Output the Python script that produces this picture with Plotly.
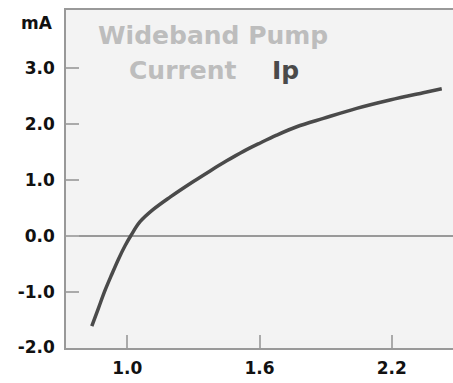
import plotly.graph_objects as go

# Lambda (x) and pump current Ip in mA (y)
lam = [0.839, 0.869, 0.899, 0.930, 0.960, 0.990, 1.016, 1.058, 1.118, 1.194, 1.300, 1.376,
       1.451, 1.527, 1.603, 1.678, 1.769, 1.890, 2.041, 2.192, 2.343, 2.427]
ip_ma = [-1.62, -1.30, -0.98, -0.69, -0.42, -0.18, 0.0, 0.25, 0.47, 0.69, 0.97, 1.16,
         1.34, 1.51, 1.66, 1.80, 1.95, 2.10, 2.28, 2.43, 2.56, 2.63]

x_ticks = [1.0, 1.6, 2.2]
x_tick_text = ["1.0", "1.6", "2.2"]
y_ticks = [3.0, 2.0, 1.0, 0.0, -1.0, -2.0]
y_tick_text = ["3.0", "2.0", "1.0", "0.0", "-1.0", "-2.0"]

fig = go.Figure()
fig.add_trace(go.Scatter(x=lam, y=ip_ma, mode="lines",
                         line=dict(color="#4a4a4a", width=3.5, shape="spline", smoothing=1.0),
                         showlegend=False, hoverinfo="skip"))

font = "DejaVu Sans, sans-serif"
tickfont = dict(family=font, size=17, color="#111", weight="bold")
fig.update_layout(
    width=453, height=383,
    margin=dict(l=66, r=0, t=10, b=35),
    paper_bgcolor="white",
    plot_bgcolor="#f3f3f3",
    font=dict(family=font, size=16, color="#111"),
    xaxis=dict(range=[0.722, 2.478], tickvals=x_ticks, ticktext=x_tick_text, tickfont=tickfont,
               ticks="inside", ticklen=13, tickcolor="#aaa", tickwidth=1.5, ticklabelstandoff=4,
               showline=True, linecolor="#999", linewidth=1.5, mirror=True,
               showgrid=False, zeroline=False),
    yaxis=dict(range=[-2.01, 4.04], tickvals=y_ticks, ticktext=y_tick_text, tickfont=tickfont,
               ticks="inside", ticklen=13, tickcolor="#aaa", tickwidth=1.5, ticklabelstandoff=6,
               showline=True, linecolor="#999", linewidth=1.5,
               showgrid=False, zeroline=True, zerolinecolor="#999", zerolinewidth=1.5),
)

fig.add_annotation(text="<b>mA</b>", xref="paper", yref="paper", x=-0.028, y=0.962, xanchor="right", yanchor="middle",
                   showarrow=False, font=dict(family=font, size=17, color="#111"))
fig.add_annotation(text="<b>Wideband Pump</b>", xref="paper", yref="paper", x=0.078, y=0.926,
                   xanchor="left", yanchor="middle",
                   showarrow=False, font=dict(family=font, size=25, color="#bdbdbd"))
fig.add_annotation(text="<b>Current</b>", xref="paper", yref="paper", x=0.158, y=0.822,
                   xanchor="left", yanchor="middle",
                   showarrow=False, font=dict(family=font, size=25, color="#bdbdbd"))
fig.add_annotation(text="<b>Ip</b>", xref="paper", yref="paper", x=0.527, y=0.822,
                   xanchor="left", yanchor="middle",
                   showarrow=False, font=dict(family=font, size=25, color="#4a4a4a"))

fig.write_html("out.html")
